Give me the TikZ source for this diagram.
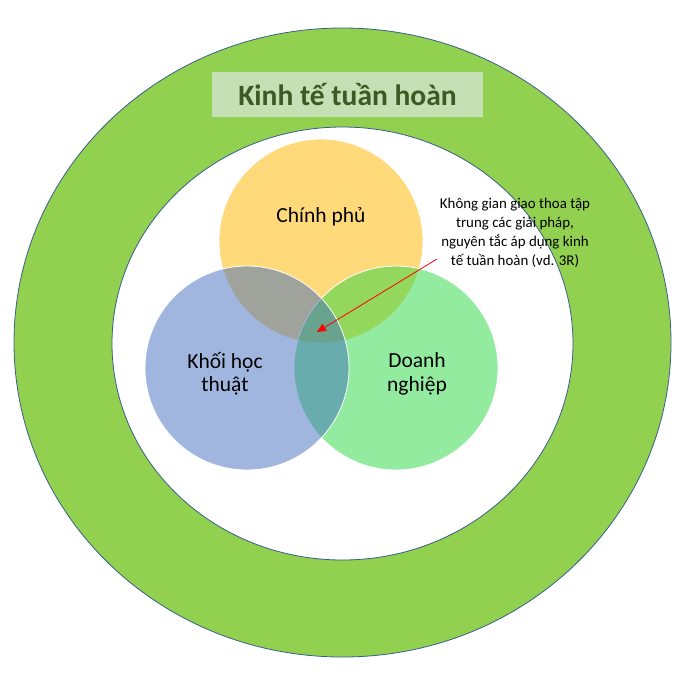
\documentclass[tikz,border=0pt]{standalone}
\usepackage{fontspec}
\setmainfont{Carlito}
\usetikzlibrary{arrows.meta}
\definecolor{ringgreen}{HTML}{92D050}
\definecolor{ringline}{HTML}{3A5F8A}
\definecolor{titlefill}{HTML}{C5E0B4}
\definecolor{titletext}{HTML}{3B5A24}
\definecolor{govyellow}{HTML}{FFD97A}
\definecolor{acadblue}{RGB}{65,110,190}
\definecolor{bizgreen}{RGB}{40,215,65}

\begin{document}
\begin{tikzpicture}[x=1pt,y=-1pt,
    venn/.style={circle, draw=white, line width=0.8pt, minimum size=204pt, inner sep=0pt},
    label/.style={align=center, font=\fontsize{21.5}{23.5}\selectfont},
    note/.style={align=center, font=\fontsize{14.9}{19}\selectfont}]
    \useasboundingbox (0,0) rectangle (695,675);
    % outer ring
    \fill[ringgreen, even odd rule] (342.5,342.5) ellipse [x radius=328.5, y radius=314.5]
      (342.5,343.5) ellipse [x radius=230.5, y radius=216.5];
    \draw[ringline, line width=0.8pt] (342.5,342.5) ellipse [x radius=328.5, y radius=314.5];
    \draw[ringline, line width=0.8pt] (342.5,343.5) ellipse [x radius=230.5, y radius=216.5];
    % title
    \node[fill=titlefill, minimum width=271pt, minimum height=45pt, text=titletext,
          font=\fontsize{29.5}{32}\selectfont\bfseries] (title) at (347.5,94.5) {Kinh tế tuần hoàn};
    % three circles
    \node[venn, fill=govyellow] (gov) at (321,241) {};
    \node[venn, fill=bizgreen, fill opacity=0.5] (biz) at (396,368) {};
    \node[venn, fill=acadblue, fill opacity=0.5] (acad) at (247,368) {};
    % labels
    \node[label] (govtext) at (321,217) {Chính phủ};
    \node[label] (acadtext) at (225,374) {Khối học\\thuật};
    \node[label] (biztext) at (417,374) {Doanh\\nghiệp};
    % note and arrow
    \node[note] (note) at (515,233) {Không gian giao thoa tập\\trung các giải pháp,\\nguyên tắc áp dụng kinh\\tế tuần hoàn (vd. 3R)};
    \coordinate (notefoot) at (437,259);
    \coordinate (core) at (317,332);
    \draw[red, line width=0.8pt, -{Triangle[length=9pt,width=8pt]}] (notefoot) -- (core);
\end{tikzpicture}
\end{document}
